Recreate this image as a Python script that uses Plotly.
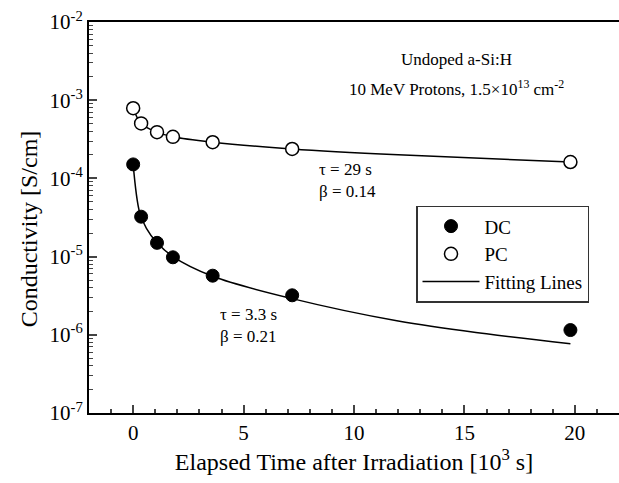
import plotly.graph_objects as go

# Data (time in 10^3 s, conductivity in S/cm)
t_pts = [0.0, 0.36, 1.08, 1.8, 3.6, 7.2, 19.8]
dc_vals = [1.51e-4, 3.24e-5, 1.5e-5, 9.8e-6, 5.7e-6, 3.2e-6, 1.15e-6]
pc_vals = [7.9e-4, 5.05e-4, 3.9e-4, 3.4e-4, 2.9e-4, 2.38e-4, 1.62e-4]

# Fitting lines
dc_fit_t = [0.0, 0.29, 0.6, 1.08, 1.8, 3.6, 7.2, 12.0, 16.0, 19.8]
dc_fit_v = [1.51e-4, 3.7e-5, 2.3e-5, 1.5e-5, 1.0e-5, 5.6e-6, 2.9e-6, 1.5e-6, 1.03e-6, 7.7e-7]
pc_fit_t = [0.0, 0.36, 1.08, 1.8, 3.6, 7.2, 12.0, 19.8]
pc_fit_v = [7.9e-4, 5.05e-4, 3.9e-4, 3.4e-4, 2.9e-4, 2.38e-4, 2.0e-4, 1.62e-4]

y_tickvals = [1e-7, 1e-6, 1e-5, 1e-4, 1e-3, 1e-2]
y_ticktext = ["10<sup>-7</sup>", "10<sup>-6</sup>", "10<sup>-5</sup>",
              "10<sup>-4</sup>", "10<sup>-3</sup>", "10<sup>-2</sup>"]
y_minor = [m * 10.0 ** k for k in range(-7, -2) for m in range(2, 10)]
x_tickvals = [0, 5, 10, 15, 20]

FONT = "Liberation Serif, Times New Roman, serif"

fig = go.Figure()
fig.add_trace(go.Scatter(x=dc_fit_t, y=dc_fit_v, mode="lines", line=dict(color="black", width=1.5, shape="spline"),
                         showlegend=False))
fig.add_trace(go.Scatter(x=pc_fit_t, y=pc_fit_v, mode="lines", line=dict(color="black", width=1.5, shape="spline"),
                         showlegend=False))
fig.add_trace(go.Scatter(x=t_pts, y=dc_vals, mode="markers", name="DC",
                         marker=dict(symbol="circle", size=13, color="black", line=dict(color="black", width=1))))
fig.add_trace(go.Scatter(x=t_pts, y=pc_vals, mode="markers", name="PC",
                         marker=dict(symbol="circle", size=13, color="white", line=dict(color="black", width=1.5))))
fig.add_trace(go.Scatter(x=[None], y=[None], mode="lines", name="Fitting Lines",
                         line=dict(color="black", width=1.5)))

fig.update_xaxes(range=[-2, 22], tickvals=x_tickvals, ticks="inside", ticklen=8, tickwidth=1.5,
                 showline=True, linecolor="black", linewidth=2, mirror=True, showgrid=False, zeroline=False,
                 minor=dict(ticks="inside", ticklen=4, tickwidth=1.5, dtick=1, showgrid=False),
                 tickfont=dict(family=FONT, size=21, color="black"),
                 title=dict(text="Elapsed Time after Irradiation [10<sup>3</sup> s]",
                            font=dict(family=FONT, size=24, color="black"), standoff=6))
fig.update_yaxes(type="log", range=[-7, -2], tickvals=y_tickvals, ticktext=y_ticktext,
                 ticks="inside", ticklen=8, tickwidth=1.5,
                 showline=True, linecolor="black", linewidth=2, mirror=False, showgrid=False, zeroline=False,
                 minor=dict(ticks="inside", ticklen=4, tickwidth=1, tickvals=y_minor, showgrid=False),
                 tickfont=dict(family=FONT, size=21, color="black"))

# y-axis title (placed as annotation to match the reference's vertical offset)
fig.add_annotation(x=-0.113, y=0.47, xref="paper", yref="paper", text="Conductivity [S/cm]",
                   textangle=-90, showarrow=False, xanchor="center", yanchor="middle",
                   font=dict(family=FONT, size=24, color="black"))

ann_font = dict(family=FONT, size=17, color="black")
fig.add_annotation(x=0.693, y=0.903, xref="paper", yref="paper", text="Undoped a-Si:H",
                   showarrow=False, font=ann_font, xanchor="center", yanchor="middle")
fig.add_annotation(x=0.693, y=0.831, xref="paper", yref="paper",
                   text="10 MeV Protons, 1.5×10<sup>13</sup> cm<sup>-2</sup>",
                   showarrow=False, font=ann_font, xanchor="center", yanchor="middle")
fig.add_annotation(x=0.43, y=0.595, xref="paper", yref="paper", text="τ = 29 s<br>β = 0.14",
                   showarrow=False, font=ann_font, xanchor="left", yanchor="middle", align="left")
fig.add_annotation(x=0.243, y=0.225, xref="paper", yref="paper", text="τ = 3.3 s<br>β = 0.21",
                   showarrow=False, font=ann_font, xanchor="left", yanchor="middle", align="left")

fig.update_layout(
    width=619, height=483,
    margin=dict(l=89, r=0, t=22, b=70),
    paper_bgcolor="white", plot_bgcolor="white",
    font=dict(family=FONT, color="black"),
    legend=dict(x=0.617, y=0.53, xanchor="left", yanchor="top",
                bordercolor="#333", borderwidth=1.5, bgcolor="white",
                font=dict(family=FONT, size=19, color="black"),
                tracegroupgap=0, itemwidth=57),
)

fig.write_html("out.html")
